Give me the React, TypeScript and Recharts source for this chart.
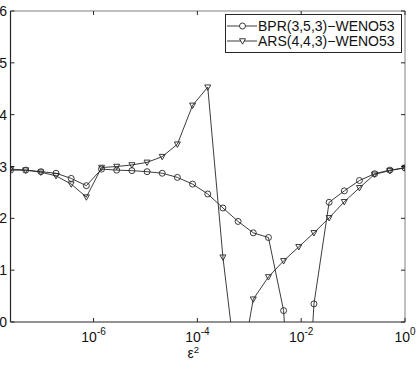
import React from 'react';
import { LineChart, Line, XAxis, YAxis, ReferenceLine, Legend } from 'recharts';

// epsilon^2 sample points (x axis, log scale)
const epsilon2 = [
  2.512e-8, 4.924e-8, 9.652e-8, 1.892e-7, 3.709e-7, 7.271e-7, 1.425e-6, 2.793e-6, 5.476e-6,
  1.073e-5, 2.104e-5, 4.125e-5, 8.085e-5, 1.585e-4, 3.107e-4, 6.09e-4, 1.194e-3, 2.34e-3,
  4.587e-3, 8.991e-3, 1.762e-2, 3.455e-2, 6.772e-2, 0.1327, 0.2602, 0.5101, 1,
];
// BPR(3,5,3)-WENO53
const bprValues = [
  2.93, 2.93, 2.9, 2.87, 2.77, 2.63, 2.95, 2.93, 2.92, 2.9, 2.87, 2.79, 2.66, 2.47, 2.2, 1.94,
  1.72, 1.63, 0.22, -4.7, 0.35, 2.31, 2.53, 2.73, 2.86, 2.93, 2.97,
];
// ARS(4,4,3)-WENO53
const arsValues = [
  2.95, 2.93, 2.89, 2.82, 2.66, 2.41, 2.98, 3.0, 3.03, 3.08, 3.19, 3.43, 4.18, 4.53, 1.25, -1.2,
  0.44, 0.87, 1.18, 1.45, 1.72, 2.01, 2.32, 2.59, 2.85, 2.92, 2.98,
];
const xTicks = [1e-6, 1e-4, 1e-2, 1];
const yTicks = [0, 1, 2, 3, 4, 5, 6];
const seriesNames = ['BPR(3,5,3)\u2212WENO53', 'ARS(4,4,3)\u2212WENO53'];

const data = epsilon2.map((x, i) => ({ x, bpr: bprValues[i], ars: arsValues[i] }));

const W = 419;
const H = 365;
const PLOT_TOP = 11;
const PLOT_RIGHT = 405;
const INK = '#262626';
const FONT = '"Liberation Sans", Arial, Helvetica, sans-serif';

const XTick = (props: any) => {
  const { x, y, payload } = props;
  const exp = Math.round(Math.log10(payload.value));
  return (
    <g>
      <line x1={x} y1={y} x2={x} y2={y - 4} stroke={INK} strokeWidth={1} />
      <line x1={x} y1={PLOT_TOP} x2={x} y2={PLOT_TOP + 4} stroke={INK} strokeWidth={1} />
      <text x={x} y={y + 20} textAnchor="middle" fontSize={14} fill="#111" fontFamily={FONT}>
        10
        <tspan dy={-7.5} fontSize={10}>{exp < 0 ? '-' + Math.abs(exp) : String(exp)}</tspan>
      </text>
    </g>
  );
};

const YTick = (props: any) => {
  const { x, y, payload } = props;
  return (
    <g>
      <line x1={x} y1={y} x2={x + 4} y2={y} stroke={INK} strokeWidth={1} />
      <line x1={PLOT_RIGHT} y1={y} x2={PLOT_RIGHT - 4} y2={y} stroke={INK} strokeWidth={1} />
      <text x={x - 3.5} y={y + 5} textAnchor="end" fontSize={14} fill="#111" fontFamily={FONT}>
        {payload.value}
      </text>
    </g>
  );
};

const TriangleDot = (props: any) => {
  const { cx, cy, index } = props;
  if (cx == null || cy == null) return <g key={'t' + index} />;
  const s = 3;
  return (
    <path
      key={'t' + index}
      d={`M${cx - s},${cy - s * 0.75} L${cx + s},${cy - s * 0.75} L${cx},${cy + s * 1.05} Z`}
      fill="none"
      stroke={INK}
      strokeWidth={0.9}
    />
  );
};

const XLabel = (props: any) => {
  const { viewBox } = props;
  const cx = viewBox.x + viewBox.width / 2 - 14.5;
  return (
    <text x={cx} y={357.5} textAnchor="middle" fontSize={14} fill="#111" fontFamily={FONT}>
      ε<tspan dy={-5} fontSize={9.5}>2</tspan>
    </text>
  );
};

const LegendBox = () => (
  <svg width={177} height={39} style={{ display: 'block' }}>
    <rect x={0.5} y={0.5} width={176} height={38} fill="#fff" stroke={INK} strokeWidth={1} />
    <line x1={2} y1={12} x2={32} y2={12} stroke={INK} strokeWidth={0.9} />
    <circle cx={17.5} cy={12} r={3} fill="#fff" stroke={INK} strokeWidth={0.9} />
    <text x={33} y={17} fontSize={14} fill="#111" fontFamily={FONT}>{seriesNames[0]}</text>
    <line x1={2} y1={27} x2={32} y2={27} stroke={INK} strokeWidth={0.9} />
    <path d="M14.5,24.75 L20.5,24.75 L17.5,30.15 Z" fill="#fff" stroke={INK} strokeWidth={0.9} />
    <text x={33} y={32} fontSize={14} fill="#111" fontFamily={FONT}>{seriesNames[1]}</text>
  </svg>
);

export default function App() {
  return (
    <div style={{ position: 'absolute', left: 0, top: 0, width: W, height: H, background: '#fff', fontFamily: FONT }}>
      <LineChart width={W} height={H} data={data} margin={{ top: PLOT_TOP, right: W - PLOT_RIGHT, bottom: 0, left: 0 }}>
        <XAxis
          dataKey="x"
          type="number"
          scale="log"
          domain={[epsilon2[0], 1]}
          allowDataOverflow
          ticks={xTicks}
          interval={0}
          height={43}
          tickSize={0}
          tickMargin={0}
          tickLine={false}
          axisLine={{ stroke: INK, strokeWidth: 1.2 }}
          tick={<XTick />}
          label={<XLabel />}
        />
        <YAxis
          type="number"
          domain={[0, 6]}
          allowDataOverflow
          ticks={yTicks}
          interval={0}
          width={10.5}
          tickSize={0}
          tickMargin={0}
          tickLine={false}
          axisLine={{ stroke: INK, strokeWidth: 1.2 }}
          tick={<YTick />}
        />
        <ReferenceLine y={6} stroke="#808080" strokeWidth={1} ifOverflow="extendDomain" />
        <ReferenceLine x={1} stroke="#808080" strokeWidth={1} ifOverflow="extendDomain" />
        <Line
          dataKey="bpr"
          name={seriesNames[0]}
          stroke={INK}
          strokeWidth={0.9}
          dot={{ r: 3, fill: 'none', stroke: INK, strokeWidth: 0.9 }}
          activeDot={false}
          isAnimationActive={false}
        />
        <Line
          dataKey="ars"
          name={seriesNames[1]}
          stroke={INK}
          strokeWidth={0.9}
          dot={<TriangleDot />}
          activeDot={false}
          isAnimationActive={false}
        />
        <Legend
          layout="horizontal"
          verticalAlign="middle"
          align="center"
          content={<LegendBox />}
          wrapperStyle={{ left: 225, top: 14, width: 177, height: 39, right: 'auto', bottom: 'auto' }}
        />
      </LineChart>
    </div>
  );
}
